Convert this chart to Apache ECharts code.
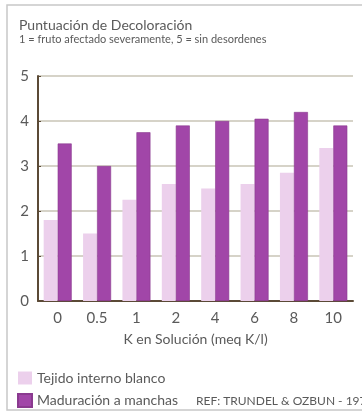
<!DOCTYPE html>
<html>
<head>
<meta charset="utf-8">
<script src="https://cdn.jsdelivr.net/npm/echarts@6/dist/echarts.min.js"></script>
<style>
  html, body { margin: 0; padding: 0; background: #fff; }
  #chart { width: 362px; height: 414px; }
</style>
</head>
<body>
<div id="chart"></div>
<script>
var categories = ['0', '0.5', '1', '2', '4', '6', '8', '10'];
var tejidoBlanco = [1.8, 1.5, 2.25, 2.6, 2.5, 2.6, 2.85, 3.4];
var maduracion = [3.5, 3.0, 3.75, 3.9, 4.0, 4.05, 4.2, 3.9];
var yTicks = [0, 1, 2, 3, 4, 5];

var textColor = '#5a5a5a';
var font = 'Lato';

var myChart = echarts.init(document.getElementById('chart'));
myChart.setOption({
    animation: false,
    textStyle: { fontFamily: font },
    graphic: [
        {
            type: 'rect',
            shape: { x: 7, y: 5, width: 370, height: 405 },
            style: { fill: 'none', stroke: '#c8c8c8', lineWidth: 1.5 },
            silent: true
        },
        {
            type: 'text',
            left: 196,
            top: 395,
            style: { text: 'REF: TRUNDEL & OZBUN - 1977', fill: textColor, font: '12px ' + font }
        }
    ],
    title: {
        left: 14,
        top: 13,
        text: 'Puntuación de Decoloración',
        subtext: '1 = fruto afectado severamente, 5 = sin desordenes',
        itemGap: 2,
        textStyle: { fontSize: 14, fontWeight: 'normal', color: textColor, fontFamily: font },
        subtextStyle: { fontSize: 11, color: textColor, fontFamily: font }
    },
    legend: {
        orient: 'vertical',
        left: 17,
        top: 371,
        padding: 0,
        itemWidth: 14,
        itemHeight: 13,
        itemGap: 8,
        icon: 'rect',
        textStyle: { fontSize: 14, color: textColor, fontFamily: font },
        data: ['Tejido interno blanco', 'Maduración a manchas']
    },
    grid: {
        left: 38,
        right: 9,
        top: 76,
        bottom: 113
    },
    xAxis: {
        type: 'category',
        data: categories,
        name: 'K en Solución (meq K/l)',
        nameLocation: 'middle',
        nameGap: 31,
        nameTextStyle: { fontSize: 14, color: textColor },
        axisLine: { lineStyle: { color: '#5b4a36', width: 2 } },
        axisTick: { show: false },
        axisLabel: { fontSize: 15, color: textColor, margin: 10 }
    },
    yAxis: {
        type: 'value',
        min: 0,
        max: 5,
        interval: 1,
        axisLine: { show: true, lineStyle: { color: '#5b4a36', width: 2 } },
        axisTick: { show: true, inside: true, length: 3, lineStyle: { color: '#5b4a36' } },
        axisLabel: {
            fontSize: 15, color: textColor, margin: 9,
            formatter: function (v) { return yTicks.indexOf(v) >= 0 ? String(v) : ''; }
        },
        splitLine: { lineStyle: { color: '#c9c5b6', width: 1.5 } }
    },
    series: [
        {
            name: 'Tejido interno blanco',
            type: 'bar',
            data: tejidoBlanco,
            barWidth: 14,
            barGap: '0%',
            itemStyle: { color: '#ecd0ec' }
        },
        {
            name: 'Maduración a manchas',
            type: 'bar',
            data: maduracion,
            barWidth: 14,
            itemStyle: { color: '#a146a8', borderColor: '#8a3a8f', borderWidth: 0.6 }
        }
    ]
});
</script>
</body>
</html>
